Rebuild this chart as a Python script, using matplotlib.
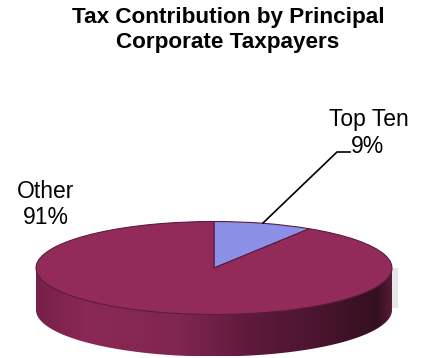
import numpy as np
import matplotlib.pyplot as plt
from matplotlib.colors import LinearSegmentedColormap
from matplotlib.patches import Polygon, Rectangle

plt.rcParams['font.family'] = ['Liberation Sans', 'DejaVu Sans']

labels = ['Top Ten', 'Other']
shares = [9, 91]
colors = ['#8b90e6', '#922b5a']
title = 'Tax Contribution by Principal\nCorporate Taxpayers'

# shading along the rim, left to right
rim_stops = [0.0, 0.15, 0.4, 0.6, 0.8, 0.96, 1.0]
rim_colors = ['#78204a', '#8a2955', '#802650', '#5f1a3b', '#4a142e', '#34101f', '#571b38']

W, H = 422, 358
cx, cy = 214, 268      # pie centre in pixels
rx, ry = 178, 46.5     # ellipse radii
depth = 42 / ry        # rim height in axes units

fig = plt.figure(figsize=(W / 100, H / 100), dpi=100)
ax = fig.add_axes([0, 0, 1, 1])
xlim = ((0 - cx) / rx, (W - cx) / rx)
ylim = ((cy - H) / ry, cy / ry)

# rim first, so the top surface sits over it
t = np.linspace(np.pi, 2 * np.pi, 200)
rim_x = np.concatenate([[-1], np.cos(t), [1]])
rim_y = np.concatenate([[0], np.sin(t) - depth, [0]])
rim = Polygon(np.column_stack([rim_x, rim_y]), closed=True, fc='none', ec='none')
ax.add_patch(rim)
cmap = LinearSegmentedColormap.from_list('rim', list(zip(rim_stops, rim_colors)))
grad = ax.imshow(np.linspace(0, 1, 256).reshape(1, -1), cmap=cmap, aspect='auto',
                 extent=(-1, 1, -1 - depth, 0), zorder=1)
grad.set_clip_path(rim)

# faint shadow on the right of the rim
ax.add_patch(Rectangle((1.0, -depth * 0.95), 6 / rx, depth * 0.95, fc='#e6e6e6', ec='none', zorder=0))

wedges, _ = ax.pie(shares, colors=colors, startangle=90, counterclock=False, radius=1,
                   wedgeprops={'edgecolor': '#5a1c3e', 'linewidth': 0.8, 'zorder': 2})
ax.set_aspect('auto')
ax.set_xlim(*xlim)
ax.set_ylim(*ylim)
ax.axis('off')

# leader line for the small slice
fig.add_artist(plt.Line2D([263 / W, 337 / W, 350 / W],
                          [1 - 223 / H, 1 - 152 / H, 1 - 152 / H],
                          color='black', lw=1.2))

fig.text(228 / W, 1 - 30 / H, title, fontsize=16.2, fontweight='bold',
         ha='center', va='center', linespacing=1.2)
fig.text(369 / W, 1 - 119 / H, labels[0], fontsize=16.5, ha='center', va='center')
fig.text(367 / W, 1 - 146 / H, f'{shares[0]}%', fontsize=16.5, ha='center', va='center')
fig.text(46 / W, 1 - 192 / H, labels[1], fontsize=16.5, ha='center', va='center')
fig.text(46 / W, 1 - 218 / H, f'{shares[1]}%', fontsize=16.5, ha='center', va='center')

plt.savefig('out.png', dpi=100)
